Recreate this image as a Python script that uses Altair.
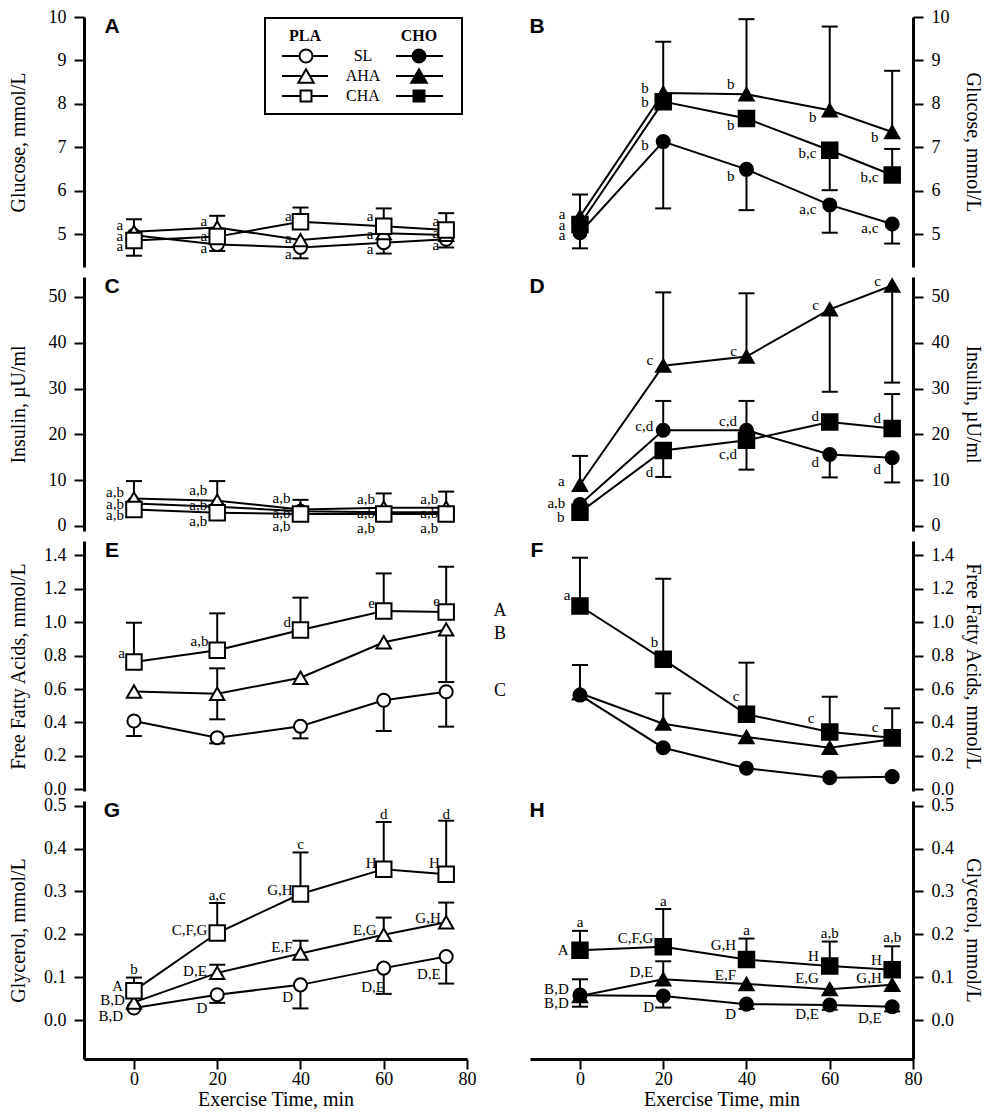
import altair as alt
import pandas as pd

SERIF = "Liberation Serif"
SANS = "Liberation Sans"

TIME = [0, 20, 40, 60, 75]
SERIES = ["SL", "AHA", "CHA"]
SHAPES = ["circle", "triangle-up", "square"]
SIZES = [170, 240, 120]

# ---------------- Panel A: glucose, PLA ----------------
A_SL = [4.97, 4.76, 4.69, 4.80, 4.88]
A_AHA = [5.05, 5.15, 4.86, 5.02, 4.98]
A_CHA = [4.85, 4.94, 5.28, 5.18, 5.09]
A_SL_DN = [None, 4.61, 4.44, 4.55, 4.69]
A_AHA_UP = [5.34, 5.42, None, None, None]
A_CHA_UP = [None, None, 5.61, 5.59, 5.48]
A_CHA_DN = [4.50, None, None, None, None]
A_NOTE_X = [-2.6, -2.6, -2.6, 17.6, 17.6, 17.6, 37.9, 37.9, 37.9, 57.5, 57.5, 57.5, 73.3, 73.3, 73.3]
A_NOTE_Y = [5.21, 4.96, 4.73, 5.30, 4.96, 4.67, 5.41, 4.90, 4.55, 5.41, 4.99, 4.65, 5.30, 5.03, 4.75]
A_NOTE_T = ["a", "a", "a", "a", "a", "a", "a", "a", "a", "a", "a", "a", "a", "a", "a"]

# ---------------- Panel B: glucose, CHO ----------------
B_SL = [5.03, 7.13, 6.49, 5.67, 5.23]
B_AHA = [5.40, 8.25, 8.22, 7.85, 7.35]
B_CHA = [5.22, 8.05, 7.66, 6.93, 6.36]
B_SL_DN = [4.67, 5.59, 5.55, 5.03, 4.78]
B_AHA_UP = [5.91, 9.43, 9.95, 9.78, 8.76]
B_CHA_UP = [None, None, None, None, 6.96]
B_CHA_DN = [None, None, None, 6.01, None]
B_NOTE_X = [-3.5, -3.5, -3.5, 16.5, 16.5, 16.5, 37.1, 37.1, 37.1, 56.8, 56.8, 56.8, 71.7, 71.7, 71.7]
B_NOTE_Y = [5.45, 5.21, 4.98, 8.36, 8.05, 7.04, 8.46, 7.51, 6.34, 7.70, 6.86, 5.58, 7.24, 6.32, 5.15]
B_NOTE_T = ["a", "a", "a", "b", "b", "b", "b", "b", "b", "b", "b,c", "a,c", "b", "b,c", "a,c"]

# ---------------- Panel C: insulin, PLA ----------------
C_SL = [4.9, 4.2, 3.2, 3.0, 3.0]
C_AHA = [6.0, 5.5, 3.6, 4.0, 4.0]
C_CHA = [3.6, 2.9, 2.6, 2.6, 2.6]
C_AHA_UP = [9.8, 9.8, 5.7, 7.1, 7.5]
C_CHA_DN = [2.0, 1.6, 1.6, 1.1, 1.3]
C_NOTE_X = [-2.4, -2.4, -2.4, 17.6, 17.6, 17.6, 37.6, 37.6, 37.6, 57.9, 57.9, 57.9, 73.1, 73.1, 73.1]
C_NOTE_Y = [7.5, 4.9, 2.3, 7.8, 4.6, 1.1, 6.2, 2.9, -0.1, 5.8, 2.9, -0.4, 5.8, 2.9, -0.4]
C_NOTE_T = ["a,b", "a,b", "a,b", "a,b", "a,b", "a,b", "a,b", "a,b", "a,b", "a,b", "a,b", "a,b", "a,b", "a,b", "a,b"]

# ---------------- Panel D: insulin, CHO ----------------
D_SL = [4.7, 20.9, 20.9, 15.6, 14.9]
D_AHA = [9.0, 35.0, 37.0, 47.3, 52.5]
D_CHA = [3.0, 16.5, 18.7, 22.7, 21.3]
D_SL_UP = [None, 27.3, 27.3, None, None]
D_SL_DN = [None, None, None, 10.6, 9.5]
D_AHA_UP = [15.3, 51.0, 50.8, None, None]
D_AHA_DN = [None, None, None, 29.3, 31.3]
D_CHA_UP = [None, None, None, None, 28.8]
D_CHA_DN = [None, 10.7, 12.3, None, None]
D_NOTE_X = [-3.7, -3.5, -3.7, 17.6, 17.6, 17.6, 37.7, 37.7, 37.7, 57.4, 57.4, 57.4, 72.3, 72.3, 72.3]
D_NOTE_Y = [9.9, 5.0, 1.9, 36.2, 21.9, 11.7, 38.3, 22.9, 15.7, 48.2, 24.1, 13.9, 53.4, 23.5, 12.5]
D_NOTE_T = ["a", "a,b", "b", "c", "c,d", "d", "c", "c,d", "c,d", "c", "d", "d", "c", "d", "d"]

# ---------------- Panel E: free fatty acids, PLA ----------------
E_SL = [0.409, 0.309, 0.377, 0.533, 0.584]
E_AHA = [0.585, 0.572, 0.668, 0.880, 0.957]
E_CHA = [0.762, 0.832, 0.953, 1.067, 1.061]
E_SL_DN = [0.319, 0.275, 0.305, 0.349, 0.375]
E_AHA_UP = [None, 0.724, None, None, None]
E_AHA_DN = [None, 0.419, None, None, 0.642]
E_CHA_UP = [0.997, 1.053, 1.147, 1.292, 1.332]
E_NOTE_X = [-2.2, 17.9, 37.7, 57.9, 73.5]
E_NOTE_Y = [0.818, 0.888, 1.001, 1.117, 1.127]
E_NOTE_T = ["a", "a,b", "d", "e", "e"]
E_SIDE_Y = [1.067, 0.932, 0.589]
E_SIDE_T = ["A", "B", "C"]

# ---------------- Panel F: free fatty acids, CHO ----------------
F_SL = [0.564, 0.249, 0.126, 0.070, 0.076]
F_AHA = [0.575, 0.393, 0.313, 0.249, 0.299]
F_CHA = [1.097, 0.778, 0.449, 0.343, 0.309]
F_AHA_UP = [0.744, 0.574, None, None, None]
F_CHA_UP = [1.386, 1.260, 0.758, 0.554, 0.485]
F_NOTE_X = [-2.3, 18.8, 38.3, 56.3, 71.7]
F_NOTE_Y = [1.163, 0.884, 0.558, 0.429, 0.375]
F_NOTE_T = ["a", "b", "c", "c", "c"]

# ---------------- Panel G: glycerol, PLA ----------------
G_SL = [0.028, 0.059, 0.082, 0.121, 0.148]
G_AHA = [0.041, 0.110, 0.155, 0.199, 0.228]
G_CHA = [0.068, 0.203, 0.294, 0.352, 0.340]
G_SL_DN = [None, 0.040, 0.027, 0.061, 0.085]
G_AHA_UP = [None, 0.129, 0.185, 0.239, 0.274]
G_CHA_UP = [0.099, 0.273, 0.391, 0.462, 0.465]
G_TOP_X = [0, 20, 40, 60, 75]
G_TOP_Y = [0.119, 0.291, 0.410, 0.480, 0.480]
G_TOP_T = ["b", "a,c", "c", "d", "d"]
G_NOTE_X = [-2.6, -2.2, -2.6, 17.6, 17.5, 17.6, 38.1, 38.1, 38.2, 58.3, 58.3, 60.3, 73.5, 73.7, 73.7]
G_NOTE_Y = [0.080, 0.047, 0.010, 0.210, 0.115, 0.027, 0.304, 0.171, 0.053, 0.367, 0.210, 0.078, 0.367, 0.239, 0.107]
G_NOTE_T = ["A", "B,D", "B,D", "C,F,G", "D,E", "D", "G,H", "E,F", "D", "H", "E,G", "D,E", "H", "G,H", "D,E"]

# ---------------- Panel H: glycerol, CHO ----------------
H_SL = [0.058, 0.056, 0.037, 0.035, 0.031]
H_AHA = [0.056, 0.095, 0.084, 0.072, 0.082]
H_CHA = [0.163, 0.171, 0.141, 0.126, 0.117]
H_SL_DN = [0.031, 0.029, 0.026, 0.024, 0.020]
H_AHA_UP = [0.095, 0.137, None, None, None]
H_CHA_UP = [0.208, 0.259, 0.190, 0.183, 0.172]
H_TOP_X = [0, 20, 40, 60, 75]
H_TOP_Y = [0.228, 0.278, 0.210, 0.202, 0.193]
H_TOP_T = ["a", "a", "a", "a,b", "a,b"]
H_NOTE_X = [-2.7, -2.7, -2.7, 17.6, 17.6, 17.8, 37.5, 37.5, 37.5, 57.4, 57.4, 57.4, 72.5, 72.5, 72.5]
H_NOTE_Y = [0.163, 0.072, 0.039, 0.192, 0.111, 0.030, 0.175, 0.105, 0.014, 0.150, 0.097, 0.013, 0.140, 0.099, 0.005]
H_NOTE_T = ["A", "B,D", "B,D", "C,F,G", "D,E", "D", "G,H", "E,F", "D", "H", "E,G", "D,E", "H", "G,H", "D,E"]

X_TICKS = [0, 20, 40, 60, 80]
GLU_TICKS = [5, 6, 7, 8, 9, 10]
INS_TICKS = [0, 10, 20, 30, 40, 50]
FFA_TICKS = [0.0, 0.2, 0.4, 0.6, 0.8, 1.0, 1.2, 1.4]
GLY_TICKS = [0.0, 0.1, 0.2, 0.3, 0.4, 0.5]

GLU = dict(domain=[4.24, 10], ticks=GLU_TICKS, fmt="d", title="Glucose, mmol/L", h=250)
INS = dict(domain=[-1.1, 54.36], ticks=INS_TICKS, fmt="d", title="Insulin, \u00b5U/ml", h=254)
FFA = dict(domain=[-0.01, 1.486], ticks=FFA_TICKS, fmt=".1f", title="Free Fatty Acids, mmol/L", h=250)
GLY = dict(domain=[-0.091, 0.511], ticks=GLY_TICKS, fmt=".1f", title="Glycerol, mmol/L", h=258)

W = 383


def build_points(sl, aha, cha):
    rows = []
    for s, vals in zip(SERIES, [sl, aha, cha]):
        for t, v in zip(TIME, vals):
            rows.append({"time": t, "series": s, "value": v})
    return pd.DataFrame(rows)


def build_errors(specs):
    rows = []
    for s, vals, ends in specs:
        for t, v, e in zip(TIME, vals, ends):
            if e is not None:
                rows.append({"time": t, "series": s, "value": v, "end": e})
    return pd.DataFrame(rows)


ONE = pd.DataFrame({"k": [0]})


def legend_layers():
    layers = [
        alt.Chart(ONE).mark_rect(fill="white", stroke="black", strokeWidth=2).encode(
            x=alt.value(181), x2=alt.value(378), y=alt.value(1), y2=alt.value(97)),
        alt.Chart(ONE).mark_text(font=SERIF, fontSize=16, fontWeight="bold", color="black").encode(
            x=alt.value(221), y=alt.value(19), text=alt.value("PLA")),
        alt.Chart(ONE).mark_text(font=SERIF, fontSize=16, fontWeight="bold", color="black").encode(
            x=alt.value(335), y=alt.value(19), text=alt.value("CHO")),
    ]
    for i, (lab, shp, sz) in enumerate(zip(SERIES, SHAPES, SIZES)):
        yy = 39 + 20 * i
        for (x1, x2, xc, fill) in [(198, 244, 222, "white"), (312, 359, 335, "black")]:
            layers.append(alt.Chart(ONE).mark_rule(color="black", strokeWidth=2).encode(
                x=alt.value(x1), x2=alt.value(x2), y=alt.value(yy)))
            layers.append(alt.Chart(ONE).mark_point(
                shape=shp, size=sz, filled=True, fill=fill, stroke="black",
                strokeWidth=2, opacity=1).encode(x=alt.value(xc), y=alt.value(yy)))
        layers.append(alt.Chart(ONE).mark_text(font=SERIF, fontSize=16, color="black").encode(
            x=alt.value(279), y=alt.value(yy), text=alt.value(lab)))
    return layers


def make_panel(points, errors, ycfg, fill, letter, orient, show_x,
               note_x, note_y, note_t, top_x=None, top_y=None, top_t=None,
               extra=None):
    xscale = alt.Scale(domain=[-12, 80], nice=False, zero=False)
    yscale = alt.Scale(domain=ycfg["domain"], nice=False, zero=False)
    if show_x:
        xaxis = alt.Axis(values=X_TICKS, title="Exercise Time, min", labelPadding=1,
                         titlePadding=1, labelFlush=False, format="d")
    else:
        xaxis = None
    tpad = 10 if orient == "left" else 3
    yaxis = alt.Axis(orient=orient, values=ycfg["ticks"], format=ycfg["fmt"],
                     title=ycfg["title"], labelPadding=8, minExtent=46, maxExtent=46,
                     titlePadding=tpad, labelFlush=False)

    def X(f):
        return alt.X(f, type="quantitative", scale=xscale, axis=xaxis)

    def Y(f):
        return alt.Y(f, type="quantitative", scale=yscale, axis=yaxis)

    layers = []
    layers.append(alt.Chart(errors).mark_rule(color="black", strokeWidth=2).encode(
        x=X("time"), y=Y("value"), y2=alt.Y2("end")))
    layers.append(alt.Chart(errors).mark_point(
        shape="M-1,0L1,0", size=256, filled=False, stroke="black", strokeWidth=2,
        opacity=1).encode(x=X("time"), y=Y("end")))
    layers.append(alt.Chart(points).mark_line(color="black", strokeWidth=2).encode(
        x=X("time"), y=Y("value"), detail="series:N", order="time:Q"))
    layers.append(alt.Chart(points).mark_point(
        filled=True, fill=fill, stroke="black", strokeWidth=2, opacity=1).encode(
        x=X("time"), y=Y("value"),
        shape=alt.Shape("series:N", scale=alt.Scale(domain=SERIES, range=SHAPES), legend=None),
        size=alt.Size("series:N", scale=alt.Scale(domain=SERIES, range=SIZES), legend=None)))
    notes = pd.DataFrame({"x": note_x, "y": note_y, "t": note_t})
    layers.append(alt.Chart(notes).mark_text(
        font=SERIF, fontSize=15, align="right", baseline="middle", color="black").encode(
        x=X("x"), y=Y("y"), text="t:N"))
    if top_x is not None:
        tops = pd.DataFrame({"x": top_x, "y": top_y, "t": top_t})
        layers.append(alt.Chart(tops).mark_text(
            font=SERIF, fontSize=15, align="center", baseline="middle", color="black").encode(
            x=X("x"), y=Y("y"), text="t:N"))
    lx = 28 if orient == "left" else 7
    layers.append(alt.Chart(ONE).mark_text(
        font=SANS, fontSize=21, fontWeight="bold", align="center", baseline="middle",
        color="black").encode(x=alt.value(lx), y=alt.value(10), text=alt.value(letter)))
    if extra == "side":
        side = pd.DataFrame({"y": E_SIDE_Y, "t": E_SIDE_T})
        layers.append(alt.Chart(side).mark_text(
            font=SERIF, fontSize=18, align="center", baseline="middle", color="black").encode(
            x=alt.value(416), y=Y("y"), text="t:N"))
    if extra == "legend":
        layers.extend(legend_layers())
    return alt.layer(*layers).properties(width=W, height=ycfg["h"])


pA = make_panel(build_points(A_SL, A_AHA, A_CHA),
                build_errors([("SL", A_SL, A_SL_DN), ("AHA", A_AHA, A_AHA_UP),
                              ("CHA", A_CHA, A_CHA_UP), ("CHA", A_CHA, A_CHA_DN)]),
                GLU, "white", "A", "left", False, A_NOTE_X, A_NOTE_Y, A_NOTE_T, extra="legend")
pB = make_panel(build_points(B_SL, B_AHA, B_CHA),
                build_errors([("SL", B_SL, B_SL_DN), ("AHA", B_AHA, B_AHA_UP),
                              ("CHA", B_CHA, B_CHA_UP), ("CHA", B_CHA, B_CHA_DN)]),
                GLU, "black", "B", "right", False, B_NOTE_X, B_NOTE_Y, B_NOTE_T)
pC = make_panel(build_points(C_SL, C_AHA, C_CHA),
                build_errors([("AHA", C_AHA, C_AHA_UP), ("CHA", C_CHA, C_CHA_DN)]),
                INS, "white", "C", "left", False, C_NOTE_X, C_NOTE_Y, C_NOTE_T)
pD = make_panel(build_points(D_SL, D_AHA, D_CHA),
                build_errors([("SL", D_SL, D_SL_UP), ("SL", D_SL, D_SL_DN),
                              ("AHA", D_AHA, D_AHA_UP), ("AHA", D_AHA, D_AHA_DN),
                              ("CHA", D_CHA, D_CHA_UP), ("CHA", D_CHA, D_CHA_DN)]),
                INS, "black", "D", "right", False, D_NOTE_X, D_NOTE_Y, D_NOTE_T)
pE = make_panel(build_points(E_SL, E_AHA, E_CHA),
                build_errors([("SL", E_SL, E_SL_DN), ("AHA", E_AHA, E_AHA_UP),
                              ("AHA", E_AHA, E_AHA_DN), ("CHA", E_CHA, E_CHA_UP)]),
                FFA, "white", "E", "left", False, E_NOTE_X, E_NOTE_Y, E_NOTE_T, extra="side")
pF = make_panel(build_points(F_SL, F_AHA, F_CHA),
                build_errors([("AHA", F_AHA, F_AHA_UP), ("CHA", F_CHA, F_CHA_UP)]),
                FFA, "black", "F", "right", False, F_NOTE_X, F_NOTE_Y, F_NOTE_T)
pG = make_panel(build_points(G_SL, G_AHA, G_CHA),
                build_errors([("SL", G_SL, G_SL_DN), ("AHA", G_AHA, G_AHA_UP),
                              ("CHA", G_CHA, G_CHA_UP)]),
                GLY, "white", "G", "left", True, G_NOTE_X, G_NOTE_Y, G_NOTE_T,
                G_TOP_X, G_TOP_Y, G_TOP_T)
pH = make_panel(build_points(H_SL, H_AHA, H_CHA),
                build_errors([("SL", H_SL, H_SL_DN), ("AHA", H_AHA, H_AHA_UP),
                              ("CHA", H_CHA, H_CHA_UP)]),
                GLY, "black", "H", "right", True, H_NOTE_X, H_NOTE_Y, H_NOTE_T,
                H_TOP_X, H_TOP_Y, H_TOP_T)

chart = alt.concat(pA, pB, pC, pD, pE, pF, pG, pH, columns=2,
                   spacing={"row": 10, "column": 63}, bounds="flush", align="each").properties(
    padding={"left": 0, "top": 0, "right": 5, "bottom": 0}
).configure_view(stroke=None).configure_axis(
    domainColor="black", tickColor="black", labelColor="black", titleColor="black",
    labelFont=SERIF, titleFont=SERIF, labelFontSize=18, titleFontSize=20,
    titleFontWeight="normal", grid=False, domainWidth=3, tickWidth=2, tickSize=10
)

chart.save("out.html", embed_options={"renderer": "svg", "actions": False})
